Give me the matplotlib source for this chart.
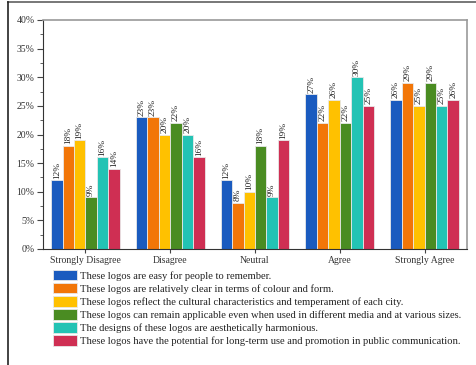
import matplotlib.pyplot as plt
import numpy as np
from matplotlib.lines import Line2D
from matplotlib.ticker import MultipleLocator, PercentFormatter

plt.rcParams['font.family'] = ['Liberation Serif', 'DejaVu Serif']

categories = ["Strongly Disagree", "Disagree", "Neutral", "Agree", "Strongly Agree"]
statements = [
    "These logos are easy for people to remember.",
    "These logos are relatively clear in terms of colour and form.",
    "These logos reflect the cultural characteristics and temperament of each city.",
    "These logos can remain applicable even when used in different media and at various sizes.",
    "The designs of these logos are aesthetically harmonious.",
    "These logos have the potential for long-term use and promotion in public communication.",
]
easy_to_remember = [12, 23, 12, 27, 26]
clear_colour_form = [18, 23, 8, 22, 29]
cultural_character = [19, 20, 10, 26, 25]
media_applicable = [9, 22, 18, 22, 29]
harmonious = [16, 20, 9, 30, 25]
long_term_use = [14, 16, 19, 25, 26]
series = [easy_to_remember, clear_colour_form, cultural_character,
          media_applicable, harmonious, long_term_use]
colors = ["#1a5bbf", "#f27608", "#ffc100", "#4a8c22", "#23c3b4", "#cf2f53"]

fig = plt.figure(figsize=(4.77, 3.65), dpi=100)
ax = fig.add_axes([43 / 477, 1 - 249 / 365, 424 / 477, 229 / 365])

x = np.arange(len(categories))
width = 0.135
for i, (vals, col, lab) in enumerate(zip(series, colors, statements)):
    pos = x + (i - 2.5) * width
    bars = ax.bar(pos, vals, width, color=col, edgecolor="#e8e8e8",
                  linewidth=0.6, label=lab)
    for xp, v in zip(pos, vals):
        ax.text(xp, v + 0.3, f"{v}%", rotation=90, ha="center", va="bottom",
                fontsize=6.7, color="#222222")

ax.set_xlim(-0.5, 4.5)
ax.set_ylim(0, 40)
ax.set_xticks(x)
ax.set_xticklabels(categories, fontsize=7, color="#333333")
ax.yaxis.set_major_locator(MultipleLocator(5))
ax.yaxis.set_minor_locator(MultipleLocator(2.5))
ax.yaxis.set_major_formatter(PercentFormatter(decimals=0))
ax.tick_params(axis="y", labelsize=7, labelcolor="#333333", length=4,
               width=0.8, color="#444444", pad=2)
ax.tick_params(axis="y", which="minor", length=2, width=0.6, color="#444444")
ax.tick_params(axis="x", length=3, width=0.8, color="#444444", pad=2)

ax.spines["left"].set_color("#333333")
ax.spines["bottom"].set_color("#333333")
ax.spines["left"].set_linewidth(0.8)
ax.spines["bottom"].set_linewidth(0.8)
for side in ("top", "right"):
    ax.spines[side].set_color("#999999")
    ax.spines[side].set_linewidth(1.2)

fig.legend(loc="upper left", bbox_to_anchor=(53 / 477, 1 - 270 / 365),
           frameon=False, fontsize=7.55, handlelength=2.3, handleheight=1.15,
           handletextpad=0.3, labelspacing=0.22, borderaxespad=0,
           borderpad=0, labelcolor="#222222")

# outer frame lines
fig.add_artist(Line2D([8 / 477, 1], [1 - 2 / 365, 1 - 2 / 365],
                      color="#777777", linewidth=1.4))
fig.add_artist(Line2D([8 / 477, 8 / 477], [0, 1 - 2 / 365],
                      color="#222222", linewidth=1.2))

fig.savefig("out.png", dpi=100)
